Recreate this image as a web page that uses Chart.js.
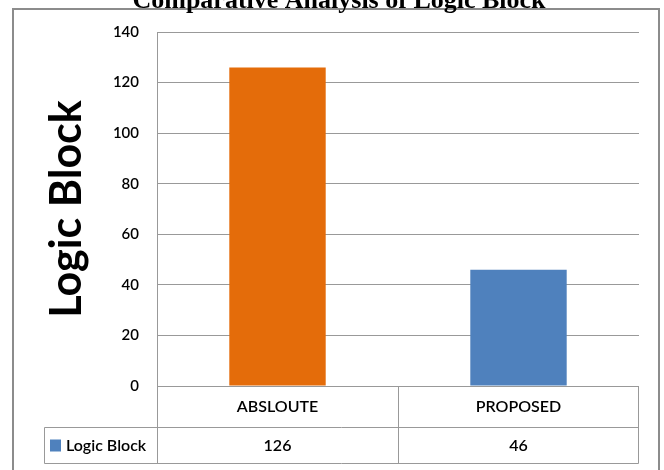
<!DOCTYPE html>
<html>
<head>
<meta charset="utf-8">
<script src="https://cdn.jsdelivr.net/npm/chart.js@4"></script>
<style>
  body { margin: 0; background: #fff; }
  canvas { display: block; }
</style>
</head>
<body>
<canvas id="chart" width="664" height="470"></canvas>
<script>
const chartTitle = 'Comparative Analysis of Logic Block';
const categories = ['ABSLOUTE', 'PROPOSED'];
const seriesName = 'Logic Block';
const logicBlocks = [126, 46];
const barColors = ['#e46c0a', '#4f81bd'];
const yTicks = [0, 20, 40, 60, 80, 100, 120, 140];
const yTitle = 'Logic Block';

const lineColor = '#999';
const textWeight = '600';

// outer frame + the (cut off) title above it
const frameAndTitle = {
    id: 'frameAndTitle',
    beforeDraw(chart) {
        const ctx = chart.ctx;
        ctx.save();
        ctx.fillStyle = '#fff';
        ctx.fillRect(0, 0, chart.width, chart.height);
        ctx.strokeStyle = '#8c8c8c';
        ctx.lineWidth = 2;
        ctx.strokeRect(13, 9, 646, chart.height);
        ctx.restore();
    },
    afterDraw(chart) {
        const ctx = chart.ctx;
        ctx.save();
        ctx.fillStyle = '#000';
        ctx.font = 'bold 26px "Liberation Serif"';
        ctx.textAlign = 'center';
        ctx.textBaseline = 'alphabetic';
        ctx.fillText(chartTitle, 339, 8);
        ctx.restore();
    }
};

// excel style data table under the plot
const dataTable = {
    id: 'dataTable',
    afterDraw(chart) {
        const ctx = chart.ctx;
        const x = chart.scales.x;
        const area = chart.chartArea;
        const top = Math.round(area.bottom) + 0.5;
        const mid = top + 41;
        const bottom = mid + 36;
        const legendLeft = 44.5;
        const half = (x.getPixelForValue(1) - x.getPixelForValue(0)) / 2;
        const edges = categories.map((c, i) => Math.round(x.getPixelForValue(i) - half) + 0.5);
        edges.push(Math.round(x.getPixelForValue(categories.length - 1) + half) - 0.5);
        const right = edges[edges.length - 1];

        ctx.save();
        ctx.strokeStyle = lineColor;
        ctx.lineWidth = 1;
        ctx.beginPath();
        ctx.moveTo(edges[0], top); ctx.lineTo(right, top);
        ctx.moveTo(legendLeft, mid); ctx.lineTo(right, mid);
        ctx.moveTo(legendLeft, bottom); ctx.lineTo(right, bottom);
        edges.forEach(e => { ctx.moveTo(e, top); ctx.lineTo(e, bottom); });
        ctx.moveTo(legendLeft, mid); ctx.lineTo(legendLeft, bottom);
        ctx.stroke();

        ctx.fillStyle = '#000';
        ctx.font = textWeight + ' 16px Lato';
        ctx.textAlign = 'center';
        ctx.textBaseline = 'middle';
        categories.forEach((c, i) => {
            const cx = x.getPixelForValue(i);
            ctx.fillText(c, cx, (top + mid) / 2);
            ctx.fillText(String(logicBlocks[i]), cx, (mid + bottom) / 2);
        });

        // legend key
        ctx.fillStyle = barColors[1];
        ctx.fillRect(50, (mid + bottom) / 2 - 6, 11, 12);
        ctx.fillStyle = '#000';
        ctx.textAlign = 'left';
        ctx.fillText(seriesName, 66, (mid + bottom) / 2);
        ctx.restore();
    }
};

new Chart(document.getElementById('chart'), {
    type: 'bar',
    data: {
        labels: categories,
        datasets: [{
            label: seriesName,
            data: logicBlocks,
            backgroundColor: barColors,
            categoryPercentage: 1,
            barPercentage: 0.4
        }]
    },
    options: {
        responsive: false,
        animation: false,
        layout: { padding: { top: 32, right: 25, bottom: 84, left: 0 } },
        plugins: {
            legend: { display: false },
            tooltip: { enabled: false }
        },
        scales: {
            x: {
                grid: { display: false },
                border: { display: false },
                ticks: { display: false },
                afterFit(s) { s.height = 0; }
            },
            y: {
                min: 0,
                max: 140,
                afterBuildTicks(s) { s.ticks = yTicks.map(v => ({ value: v })); },
                ticks: {
                    padding: 18,
                    color: '#000',
                    font: { family: 'Lato', size: 15, weight: textWeight }
                },
                grid: { color: lineColor, drawTicks: false },
                border: { color: lineColor },
                title: {
                    display: true,
                    text: yTitle,
                    color: '#000',
                    font: { family: 'Lato', size: 43, weight: 'bold' },
                    padding: { top: 41, bottom: 0 }
                },
                afterFit(s) { s.width = 157; }
            }
        }
    },
    plugins: [frameAndTitle, dataTable]
});
</script>
</body>
</html>
